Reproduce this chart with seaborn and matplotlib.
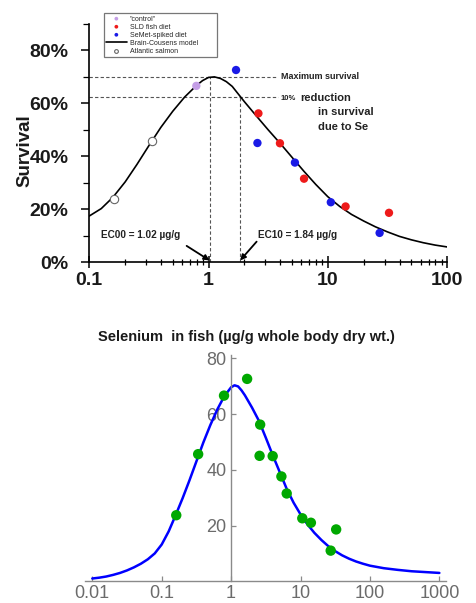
import matplotlib
matplotlib.use("Agg")

import matplotlib.pyplot as plt
import seaborn as sns
from matplotlib.ticker import FixedLocator, FixedFormatter, LogLocator, NullFormatter, NullLocator

# survival (%) against selenium in fish (ug/g whole body dry wt.)
control_x = [0.79]
control_y = [66.6]
sld_x = [2.62, 3.97, 6.32, 14.1, 32.6]
sld_y = [56.2, 44.9, 31.5, 21.0, 18.6]
semet_x = [1.70, 2.57, 5.30, 10.6, 27.2]
semet_y = [72.6, 45.0, 37.6, 22.6, 11.0]
salmon_x = [0.162, 0.335]
salmon_y = [23.7, 45.6]

# Brain-Cousens model curve (top panel), read at ~0.1 decade steps
model_x = [0.1, 0.126, 0.158, 0.2, 0.251, 0.316, 0.398, 0.501, 0.631, 0.794, 0.891,
           1.0, 1.12, 1.26, 1.41, 1.58, 2.0, 2.51, 3.16, 3.98, 5.01, 6.31, 7.94,
           10, 12.6, 15.8, 20, 25.1, 31.6, 39.8, 50.1, 63.1, 79.4, 100]
model_y = [17.4, 20.2, 24.5, 30.3, 36.9, 44.0, 50.9, 57.0, 62.4, 66.8, 68.6,
           69.8, 70.0, 69.4, 68.2, 66.4, 60.6, 55.3, 50.0, 44.9, 39.6, 34.3, 29.3,
           24.7, 21.0, 18.0, 15.5, 13.3, 11.4, 9.7, 8.4, 7.3, 6.4, 5.7]

# refitted curve (bottom panel), read at ~0.1 decade steps
fit_x = [0.01, 0.0126, 0.0158, 0.02, 0.0251, 0.0316, 0.0398, 0.0501, 0.0631, 0.0794,
         0.1, 0.126, 0.158, 0.2, 0.251, 0.316, 0.398, 0.501, 0.631, 0.794,
         1.0, 1.12, 1.26, 1.41, 1.58, 2.0, 2.51, 3.16, 3.98, 5.01, 6.31, 7.94,
         10, 12.6, 15.8, 20, 25.1, 31.6, 39.8, 50.1, 63.1, 79.4, 100,
         158, 251, 398, 631, 1000]
fit_y = [1.0, 1.3, 1.7, 2.3, 3.0, 3.9, 5.0, 6.3, 7.9, 10.0,
         13.2, 17.9, 23.6, 29.8, 36.2, 43.0, 49.8, 56.0, 61.6, 66.3,
         69.6, 70.3, 69.9, 68.5, 66.7, 62.3, 57.6, 51.5, 45.2, 39.2, 33.2, 28.2,
         24.0, 20.4, 17.4, 14.8, 12.6, 10.8, 9.3, 8.1, 7.1, 6.3, 5.6,
         4.7, 4.1, 3.6, 3.3, 3.0]

ec00, ec10 = 1.02, 1.84
max_surv, surv_10 = 70, 62.3

top_xticks = [0.1, 1, 10, 100]
top_xlabels = ["0.1", "1", "10", "100"]
top_yticks = [0, 20, 40, 60, 80]
top_ylabels = ["0%", "20%", "40%", "60%", "80%"]
bot_xticks = [0.01, 0.1, 1, 10, 100, 1000]
bot_xlabels = ["0.01", "0.1", "1", "10", "100", "1000"]
bot_yticks = [20, 40, 60, 80]

sns.set_style("ticks")
plt.rcParams["font.family"] = ["Liberation Sans", "DejaVu Sans"]

fig = plt.figure(figsize=(4.77, 6.03), dpi=100)

# ---------------- top panel ----------------
ax = fig.add_axes([0.1872, 0.5655, 0.750, 0.3947])
ax.set_xscale("log")

grey = "#555555"
dash = (0, (3, 2))
ax.plot([0.1, 3.75], [max_surv, max_surv], color=grey, lw=0.8, ls=dash)
ax.plot([0.1, 3.8], [surv_10, surv_10], color=grey, lw=0.8, ls=dash)
ax.plot([ec00, ec00], [0, max_surv], color=grey, lw=0.8, ls=dash)
ax.plot([ec10, ec10], [0, surv_10], color=grey, lw=0.8, ls=dash)

sns.lineplot(x=model_x, y=model_y, ax=ax, color="black", lw=1.2, sort=False,
             estimator=None, label="Brain-Cousens model", zorder=2)
sns.scatterplot(x=control_x, y=control_y, ax=ax, color="#c49ee6", s=36,
                edgecolor="none", label='"control"', zorder=3)
sns.scatterplot(x=sld_x, y=sld_y, ax=ax, color="#ee1a1a", s=36,
                edgecolor="none", label="SLD fish diet", zorder=3)
sns.scatterplot(x=semet_x, y=semet_y, ax=ax, color="#1a1ae6", s=36,
                edgecolor="none", label="SeMet-spiked diet", zorder=3)
sns.scatterplot(x=salmon_x, y=salmon_y, ax=ax, color="white", s=36,
                edgecolor="#666666", linewidth=0.8, label="Atlantic salmon", zorder=3)

ax.set_xlim(0.1, 100)
ax.set_ylim(0, 90)
ax.xaxis.set_major_locator(FixedLocator(top_xticks))
ax.xaxis.set_major_formatter(FixedFormatter(top_xlabels))
ax.xaxis.set_minor_locator(LogLocator(base=10, subs=range(2, 10)))
ax.xaxis.set_minor_formatter(NullFormatter())
ax.yaxis.set_major_locator(FixedLocator(top_yticks))
ax.yaxis.set_major_formatter(FixedFormatter(top_ylabels))
ax.yaxis.set_minor_locator(FixedLocator([10, 30, 50, 70, 90]))
sns.despine(ax=ax)
for s in ["left", "bottom"]:
    ax.spines[s].set_color("black")
    ax.spines[s].set_linewidth(1.2)
ax.tick_params(axis="x", which="major", direction="inout", length=8, width=1.1,
               color="black", pad=3, labelsize=14)
ax.tick_params(axis="x", which="minor", direction="inout", length=5, width=0.9, color="black")
ax.tick_params(axis="y", which="major", direction="out", length=6, width=1.1,
               color="black", pad=9, labelsize=14)
ax.tick_params(axis="y", which="minor", direction="out", length=4, width=0.9, color="black")
for lab in ax.get_xticklabels() + ax.get_yticklabels():
    lab.set_fontweight("bold")
    lab.set_color("#1a1a1a")

ax.set_ylabel("Survival", fontsize=13.5, fontweight="bold", color="#1a1a1a")
ax.yaxis.set_label_coords(-0.157, 0.47)
ax.set_xlabel("Selenium  in fish (µg/g whole body dry wt.)", fontsize=10.5,
              fontweight="bold", color="#1a1a1a")
ax.xaxis.set_label_coords(0.44, -0.285)

txt = dict(fontweight="bold", color="#222222")
ax.text(4.05, max_surv, "Maximum survival", fontsize=6.5, va="center", **txt)
ax.text(4.05, 61.9, "10%", fontsize=5.5, va="center", **txt)
ax.text(5.9, 61.9, "reduction", fontsize=8, va="center", **txt)
ax.text(8.2, 56.6, "in survival", fontsize=8, va="center", **txt)
ax.text(8.2, 51.2, "due to Se", fontsize=8, va="center", **txt)
ax.text(0.125, 10.2, "EC00 = 1.02 µg/g", fontsize=7.2, va="center", **txt)
ax.text(2.6, 10.2, "EC10 = 1.84 µg/g", fontsize=7.2, va="center", **txt)
arrow = dict(arrowstyle="-|>", color="black", lw=1.3, mutation_scale=8, shrinkA=0, shrinkB=0)
ax.annotate("", xy=(ec00, 0.6), xytext=(0.655, 6.1), arrowprops=arrow)
ax.annotate("", xy=(ec10, 0.6), xytext=(2.53, 7.7), arrowprops=arrow)

handles, labels = ax.get_legend_handles_labels()
order = ['"control"', "SLD fish diet", "SeMet-spiked diet", "Brain-Cousens model", "Atlantic salmon"]
hmap = dict(zip(labels, handles))
leg = ax.legend([hmap[k] for k in order], order, loc="upper left",
                bbox_to_anchor=(0.031, 0.9, 0.3355, 0.159), mode="expand",
                fontsize=5, markerscale=0.45, handlelength=3.0, labelspacing=0.15,
                borderpad=0.3, handletextpad=0.4, frameon=True, fancybox=False)
leg.get_frame().set_edgecolor("#555555")
leg.get_frame().set_linewidth(0.9)

# ---------------- bottom panel ----------------
ax2 = fig.add_axes([0.1782, 0.036, 0.757, 0.3745])
ax2.set_xscale("log")
all_x = control_x + sld_x + semet_x + salmon_x
all_y = control_y + sld_y + semet_y + salmon_y

sns.lineplot(x=fit_x, y=fit_y, ax=ax2, color="#0000ff", lw=1.8, sort=False,
             estimator=None, zorder=2)
sns.scatterplot(x=all_x, y=all_y, ax=ax2, color="#00a800", s=56,
                edgecolor="none", zorder=3)

ax2.set_xlim(0.00785, 1250)
ax2.set_ylim(0, 81)
for s in ["top", "right"]:
    ax2.spines[s].set_visible(False)
ax2.spines["left"].set_position(("data", 1))
axis_grey = "#8a8a8a"
for s in ["left", "bottom"]:
    ax2.spines[s].set_color(axis_grey)
    ax2.spines[s].set_linewidth(1.0)
ax2.xaxis.set_major_locator(FixedLocator(bot_xticks))
ax2.xaxis.set_major_formatter(FixedFormatter(bot_xlabels))
ax2.xaxis.set_minor_locator(NullLocator())
ax2.yaxis.set_major_locator(FixedLocator(bot_yticks))
ax2.yaxis.set_minor_locator(NullLocator())
ax2.tick_params(direction="in", length=3.5, width=0.9, color=axis_grey,
                labelcolor="#6b6b6b", labelsize=13)
ax2.tick_params(axis="x", pad=2.5)
ax2.tick_params(axis="y", pad=3.3)
ax2.set_xlabel("")
ax2.set_ylabel("")

fig.savefig("out.png", dpi=100)
